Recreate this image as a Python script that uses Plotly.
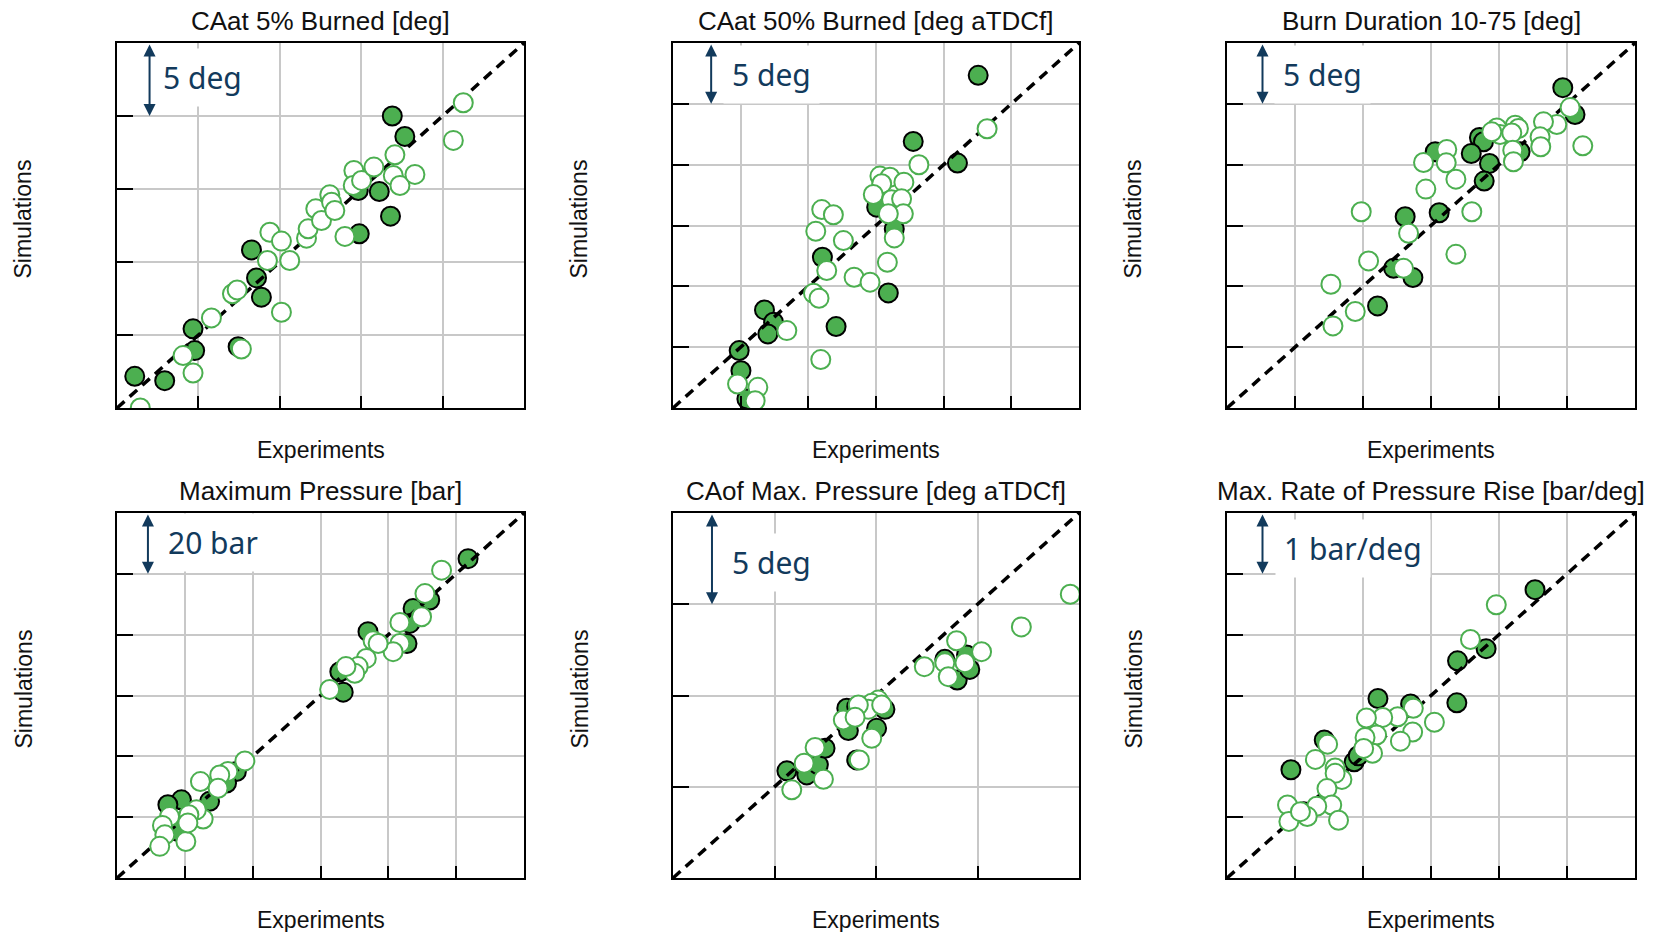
import plotly.graph_objects as go

# ---------------- data ----------------
titles = ["CAat 5% Burned [deg]", "CAat 50% Burned [deg aTDCf]", "Burn Duration 10-75 [deg]",
          "Maximum Pressure [bar]", "CAof Max. Pressure [deg aTDCf]", "Max. Rate of Pressure Rise [bar/deg]"]
scale_labels = ["5 deg", "5 deg", "5 deg", "20 bar", "5 deg", "1 bar/deg"]
axis_ranges = [(0, 25), (0, 30), (0, 30), (40, 160), (0, 20), (0, 6)]
grid_steps = [5, 5, 5, 20, 5, 1]

# Panel 1: CA at 5% burned
ca5_f_exp = [1.09, 2.93, 4.67, 4.77, 7.44, 8.26, 8.57, 8.87, 14.82, 14.88, 16.11, 16.80, 16.91, 17.68]
ca5_f_sim = [2.17, 1.87, 5.42, 3.93, 4.20, 10.83, 8.91, 7.59, 14.90, 11.93, 14.83, 13.14, 20.00, 18.60]
ca5_o_exp = [1.43, 4.06, 4.67, 5.80, 7.09, 7.38, 7.64, 9.39, 9.24, 10.10, 10.61, 10.10, 11.64, 11.74, 12.21,
             12.56, 13.07, 13.18, 13.38, 14.00, 14.55, 14.51, 15.02, 15.78, 16.97, 17.38, 17.07, 18.30, 20.66, 21.27]
ca5_o_sim = [0.00, 3.59, 2.40, 6.17, 7.82, 8.09, 4.04, 12.04, 10.10, 11.43, 10.10, 6.56, 11.63, 12.27, 13.64,
             12.84, 14.60, 14.10, 13.53, 11.75, 16.27, 15.24, 15.59, 16.50, 15.93, 15.24, 17.34, 16.00, 18.33, 20.91]

# Panel 2: CA at 50% burned
ca50_f_exp = [22.55, 17.75, 21.02, 15.05, 16.35, 11.04, 15.91, 12.05, 6.76, 7.43, 7.01, 4.89, 5.02, 5.46]
ca50_f_sim = [27.34, 21.91, 20.13, 16.51, 14.72, 12.39, 9.46, 6.69, 8.06, 7.05, 6.09, 4.72, 3.07, 0.74]
ca50_o_exp = [23.21, 18.17, 15.29, 16.03, 17.06, 15.42, 14.80, 16.15, 16.89, 17.02, 15.91, 16.35, 15.84, 10.99,
              11.85, 10.55, 12.59, 11.36, 13.38, 14.56, 10.38, 10.79, 8.41, 10.92, 4.77, 6.27, 6.07]
ca50_o_sim = [22.95, 19.99, 19.06, 18.97, 18.56, 18.43, 17.55, 17.11, 17.19, 15.96, 15.96, 13.98, 11.98, 16.31,
              15.88, 14.53, 13.76, 11.30, 10.75, 10.34, 9.43, 9.02, 6.36, 3.98, 1.97, 1.70, 0.60]

# Panel 3: burn duration 10-75
bd_f_exp = [24.69, 25.59, 15.31, 18.56, 18.86, 17.96, 19.30, 18.91, 21.55, 13.10, 15.60, 12.25, 13.67, 11.07]
bd_f_sim = [26.33, 24.12, 21.06, 22.23, 21.88, 20.92, 20.10, 18.65, 21.06, 15.72, 16.05, 11.48, 10.72, 8.39]
bd_o_exp = [25.23, 24.25, 26.16, 23.27, 23.02, 23.07, 21.19, 21.43, 19.84, 20.08, 19.47, 20.94, 21.01, 21.06,
            16.16, 16.12, 14.45, 16.83, 14.62, 18.00, 9.87, 13.35, 16.83, 10.41, 12.98, 7.64, 9.43, 7.79]
bd_o_sim = [24.69, 23.30, 21.55, 23.52, 22.29, 21.47, 23.24, 22.97, 23.02, 22.48, 22.70, 22.61, 21.19, 20.24,
            21.25, 20.15, 20.18, 18.81, 17.99, 16.13, 16.13, 14.36, 12.63, 12.09, 11.48, 10.17, 7.93, 6.75]

# Panel 4: maximum pressure
pmax_f_exp = [143.5, 132.2, 127.3, 126.3, 125.5, 114.0, 107.2, 106.7, 105.7, 75.2, 72.3, 67.3, 59.0, 55.0, 61.4, 58.0]
pmax_f_sim = [145.0, 131.4, 128.6, 123.7, 117.1, 121.0, 108.4, 101.1, 107.8, 75.0, 71.2, 65.2, 65.7, 64.1, 59.1, 55.3]
pmax_o_exp = [135.7, 130.8, 129.8, 123.4, 123.4, 121.4, 115.5, 117.0, 113.5, 111.1, 110.1, 107.5, 102.7, 77.7,
              72.7, 70.3, 64.6, 69.8, 65.4, 63.4, 61.2, 55.5, 53.4, 54.1, 60.3, 52.6, 60.9]
pmax_o_sim = [141.2, 133.5, 125.9, 124.0, 117.1, 114.4, 118.0, 117.1, 112.2, 109.5, 107.3, 109.5, 102.0, 78.5,
              75.0, 73.9, 71.7, 69.5, 59.4, 62.4, 60.8, 60.2, 57.3, 54.2, 52.0, 50.4, 58.1]

# Panel 5: CA of max pressure
capm_f_exp = [5.61, 6.59, 7.16, 7.49, 8.56, 8.64, 9.05, 10.03, 10.44, 13.39, 14.00, 14.62, 14.46, 9.05]
capm_f_sim = [5.87, 5.65, 6.20, 7.11, 9.30, 8.08, 6.47, 8.20, 9.24, 11.98, 10.85, 11.43, 12.22, 9.39]
capm_o_exp = [19.57, 17.16, 15.20, 13.97, 14.38, 13.39, 13.56, 12.38, 10.11, 9.79, 9.62, 9.13, 8.39, 8.97,
              9.79, 9.18, 7.00, 6.46, 7.41, 5.85, 10.28]
capm_o_sim = [15.55, 13.76, 12.40, 13.00, 11.80, 11.80, 11.03, 11.58, 9.75, 9.57, 9.24, 9.48, 8.66, 8.81,
              7.66, 6.47, 7.15, 6.29, 5.41, 4.83, 9.48]

# Panel 6: max rate of pressure rise
mprr_f_exp = [4.53, 3.81, 3.39, 3.38, 2.22, 2.70, 1.43, 0.94, 1.87, 1.93, 1.13]
mprr_f_sim = [4.74, 3.77, 3.57, 2.88, 2.95, 2.86, 2.27, 1.78, 1.91, 2.01, 1.09]
mprr_o_exp = [3.96, 3.58, 2.74, 2.51, 3.05, 2.73, 2.55, 2.29, 2.05, 2.20, 2.03, 2.14, 2.01, 1.48, 1.30, 1.59,
              1.69, 1.59, 1.47, 1.54, 1.32, 1.18, 0.89, 0.91, 1.64, 1.08]
mprr_o_sim = [4.49, 3.92, 2.79, 2.65, 2.56, 2.40, 2.25, 2.64, 2.63, 2.35, 2.31, 2.05, 2.13, 2.20, 1.95, 1.81,
              1.62, 1.72, 1.47, 1.20, 1.18, 1.01, 1.20, 0.93, 0.95, 1.09]

filled = [(ca5_f_exp, ca5_f_sim), (ca50_f_exp, ca50_f_sim), (bd_f_exp, bd_f_sim),
          (pmax_f_exp, pmax_f_sim), (capm_f_exp, capm_f_sim), (mprr_f_exp, mprr_f_sim)]
opened = [(ca5_o_exp, ca5_o_sim), (ca50_o_exp, ca50_o_sim), (bd_o_exp, bd_o_sim),
          (pmax_o_exp, pmax_o_sim), (capm_o_exp, capm_o_sim), (mprr_o_exp, mprr_o_sim)]

# ---------------- layout / style ----------------
W, H = 1654, 932
col_px = [(117, 524), (673, 1079), (1227, 1635)]
row_px = [(43, 408), (513, 878)]
arrow_xfrac = [0.080, 0.094, 0.087, 0.076, 0.096, 0.087]
text_left_px = [37, 50, 47, 42, 50, 48]
text_center_px = [35, 32, 32, 29, 49, 35]

GREEN = "#4caf50"
NAVY = "#123a5c"
TXT_FONT = "Liberation Sans, Arial, sans-serif"

fig = go.Figure()
annotations = []

for i in range(6):
    r, c = divmod(i, 3)
    x0p, x1p = col_px[c]
    y0p, y1p = row_px[r]
    sfx = "" if i == 0 else str(i + 1)
    xa, ya = "x" + sfx, "y" + sfx
    lo, hi = axis_ranges[i]
    step = grid_steps[i]

    axis_common = dict(range=[lo, hi], tick0=lo, dtick=step, showticklabels=False,
                       showgrid=True, gridcolor="#c8c8c8", gridwidth=2, zeroline=False,
                       showline=True, linecolor="black", linewidth=2, mirror=True,
                       ticks="inside", tickcolor="black", tickwidth=2, fixedrange=True)
    fig.update_layout(**{
        "xaxis" + sfx: dict(domain=[x0p / W, x1p / W], anchor=ya, ticklen=12, **axis_common),
        "yaxis" + sfx: dict(domain=[1 - y1p / H, 1 - y0p / H], anchor=xa, ticklen=16, **axis_common),
    })

    fx, fy = filled[i]
    fig.add_trace(go.Scatter(x=fx, y=fy, mode="markers", xaxis=xa, yaxis=ya,
                             marker=dict(size=19, color=GREEN, line=dict(color="black", width=2))))
    fig.add_trace(go.Scatter(x=[lo, hi], y=[lo, hi], mode="lines", xaxis=xa, yaxis=ya,
                             line=dict(color="black", width=3.5, dash="10px,7px")))
    ox, oy = opened[i]
    fig.add_trace(go.Scatter(x=ox, y=oy, mode="markers", xaxis=xa, yaxis=ya,
                             marker=dict(size=19, color="white", line=dict(color=GREEN, width=2))))

    wpx = x1p - x0p
    hpx = y1p - y0p
    # title
    annotations.append(dict(text=titles[i], xref="paper", yref="paper",
                            x=(x0p + x1p) / 2 / W, y=1 - (21 + r * 470) / H,
                            xanchor="center", yanchor="middle", showarrow=False,
                            font=dict(family=TXT_FONT, size=26, color="#111111")))
    # axis titles
    annotations.append(dict(text="Experiments", xref="paper", yref="paper",
                            x=(x0p + x1p) / 2 / W, y=1 - (y1p + 42) / H,
                            xanchor="center", yanchor="middle", showarrow=False,
                            font=dict(family=TXT_FONT, size=23, color="#111111")))
    annotations.append(dict(text="Simulations", xref="paper", yref="paper",
                            x=(x0p - 94) / W, y=1 - ((y0p + y1p) / 2 - 6) / H,
                            xanchor="center", yanchor="middle", showarrow=False, textangle=-90,
                            font=dict(family=TXT_FONT, size=23, color="#111111")))
    # scale text (white box hides grid)
    annotations.append(dict(text=scale_labels[i], xref=xa + " domain", yref=ya + " domain",
                            x=text_left_px[i] / wpx, y=1 - text_center_px[i] / hpx,
                            xanchor="left", yanchor="middle", showarrow=False,
                            bgcolor="white", borderpad=8,
                            font=dict(family="Noto Sans, Open Sans, sans-serif", size=30, color=NAVY)))
    # scale arrow (one grid step)
    ax_x = lo + arrow_xfrac[i] * (hi - lo)
    annotations.append(dict(text="", xref=xa, yref=ya, axref=xa, ayref=ya,
                            x=ax_x, y=hi - step, ax=ax_x, ay=hi,
                            showarrow=True, arrowhead=2, arrowside="end+start",
                            arrowsize=1.2, arrowwidth=2, arrowcolor=NAVY))

fig.update_layout(width=W, height=H, margin=dict(l=0, r=0, t=0, b=0),
                  paper_bgcolor="white", plot_bgcolor="white", showlegend=False,
                  annotations=annotations)

fig.write_html("out.html")
